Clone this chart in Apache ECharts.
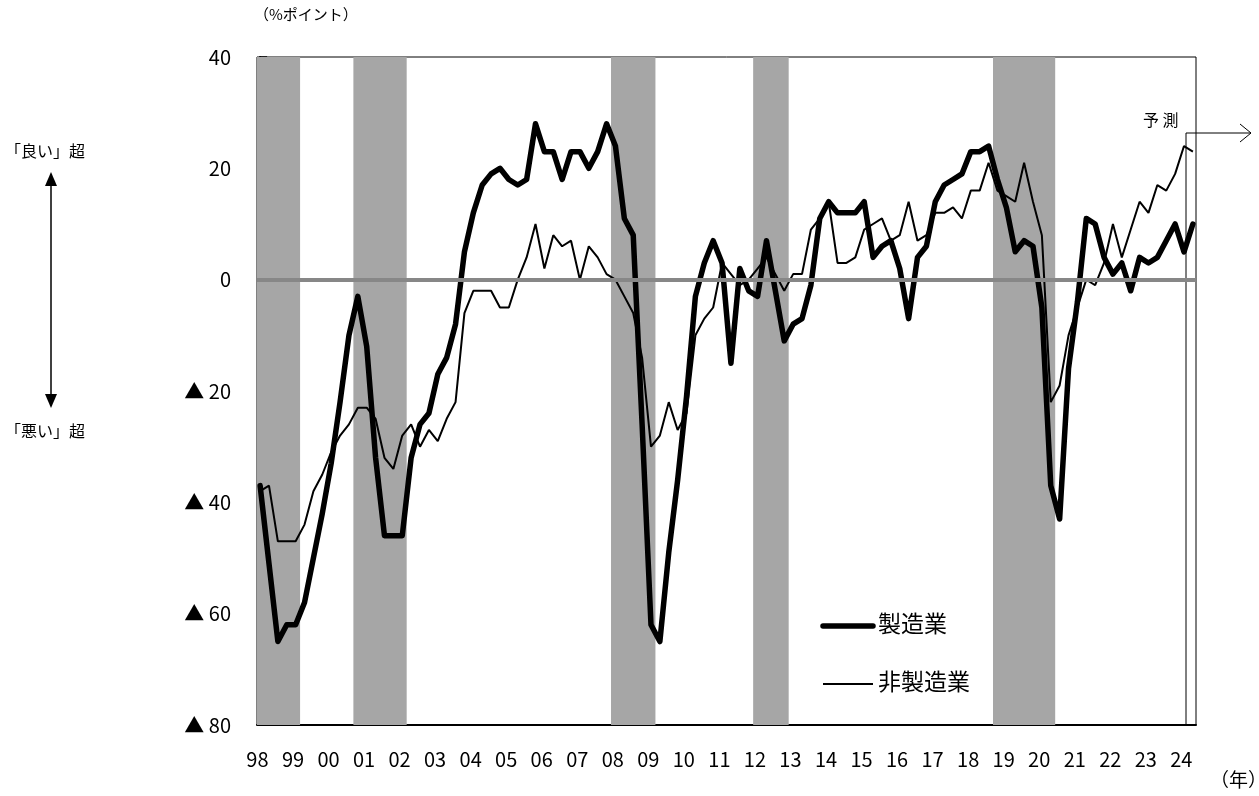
<!DOCTYPE html>
<html>
<head>
<meta charset="UTF-8">
<title>業況判断DI</title>
<style>
html,body{margin:0;padding:0;background:#fff;}
#main{width:1259px;height:796px;}
</style>
</head>
<body>
<div id="main"></div>
<script src="https://cdn.jsdelivr.net/npm/echarts@6/dist/echarts.min.js"></script>
<script>
// 年ラベル（各年の第1四半期）
var years = ['98','99','00','01','02','03','04','05','06','07','08','09','10','11','12','13','14','15','16','17','18','19','20','21','22','23','24'];
// 製造業 DI（98年1Q〜24年2Q予測）
var manufacturing = [
  -37,-51,-65,-62,-62,-58,-50,-42,-33,-22,-10,-3,-12,-32,-46,-46,
  -46,-32,-26,-24,-17,-14,-8,5,12,17,19,20,18,17,18,28,
  23,23,18,23,23,20,23,28,24,11,8,-26,-62,-65,-49,-36,
  -21,-3,3,7,3,-15,2,-2,-3,7,-2,-11,-8,-7,-1,11,
  14,12,12,12,14,4,6,7,2,-7,4,6,14,17,18,19,
  23,23,24,18,13,5,7,6,-5,-37,-43,-16,-4,11,10,4,
  1,3,-2,4,3,4,7,10,5,10
];
// 非製造業 DI
var nonManufacturing = [
  -38,-37,-47,-47,-47,-44,-38,-35,-31,-28,-26,-23,-23,-25,-32,-34,
  -28,-26,-30,-27,-29,-25,-22,-6,-2,-2,-2,-5,-5,0,4,10,
  2,8,6,7,0,6,4,1,0,-3,-6,-14,-30,-28,-22,-27,
  -24,-10,-7,-5,3,1,-1,0,2,4,1,-2,1,1,9,11,
  14,3,3,4,9,10,11,7,8,14,7,8,12,12,13,11,
  16,16,21,16,15,14,21,14,8,-22,-19,-10,-5,0,-1,3,
  10,4,9,14,12,17,16,19,24,23
];
// 景気後退期（四半期インデックス）
var recessions = [[-0.35,4.5],[10.5,16.5],[39.5,44.5],[55.5,59.5],[82.5,89.5]];

function toPairs(arr){
  var out = [];
  for (var i = 0; i < arr.length; i++) out.push([i, arr[i]]);
  return out;
}

var font = '"Noto Sans CJK JP", sans-serif';
var myChart = echarts.init(document.getElementById('main'));

var yearPos = [];
for (var k = 0; k < years.length; k++) yearPos.push(k * 4 - 0.3);

var areas = [];
for (var r = 0; r < recessions.length; r++) {
  areas.push([{xAxis: recessions[r][0]}, {xAxis: recessions[r][1]}]);
}

var option = {
  backgroundColor: '#fff',
  animation: false,
  textStyle: {fontFamily: font, color: '#000'},
  grid: {
    left: 257, right: 63, top: 57, bottom: 71,
    show: true, borderColor: '#000', borderWidth: 1, backgroundColor: 'transparent'
  },
  xAxis: {
    type: 'value',
    min: -0.35, max: 105.35,
    axisLine: {show: true, onZero: false, lineStyle: {color: '#000', width: 2}},
    axisTick: {show: false},
    splitLine: {show: false},
    axisLabel: {
      customValues: yearPos,
      margin: 24,
      fontFamily: font, fontSize: 20, color: '#000',
      formatter: function (v) { return years[Math.round((v + 0.3) / 4)]; }
    }
  },
  yAxis: {
    type: 'value',
    min: -80, max: 40, interval: 20,
    axisLine: {show: true, lineStyle: {color: '#000', width: 2}},
    axisTick: {show: true, inside: true, length: 7, lineStyle: {color: '#000', width: 1.5}},
    splitLine: {show: false},
    axisLabel: {
      margin: 26,
      fontFamily: font, fontSize: 20, color: '#000',
      formatter: function (v) { return v < 0 ? '▲ ' + (-v) : String(v); }
    }
  },
  series: [
    {
      name: 'recession', type: 'line', data: [], z: 1, silent: true,
      markArea: {silent: true, itemStyle: {color: '#a6a6a6'}, data: areas}
    },
    {
      name: 'zero', type: 'line', data: [], z: 2, silent: true,
      markLine: {
        silent: true, symbol: ['none','none'], label: {show: false},
        lineStyle: {color: '#878787', width: 4, type: 'solid'},
        data: [{yAxis: 0}]
      }
    },
    {
      name: '製造業', type: 'line', z: 3,
      data: toPairs(manufacturing),
      showSymbol: false, symbol: 'none',
      lineStyle: {color: '#000', width: 5.5, join: 'round', cap: 'round'},
      itemStyle: {color: '#000'}
    },
    {
      name: '非製造業', type: 'line', z: 4,
      data: toPairs(nonManufacturing),
      showSymbol: false, symbol: 'none',
      lineStyle: {color: '#000', width: 2},
      itemStyle: {color: '#000'}
    }
  ],
  graphic: [
    // 凡例
    {type: 'line', shape: {x1: 823, y1: 626, x2: 873, y2: 626}, style: {stroke: '#000', lineWidth: 5.5, lineCap: 'round'}},
    {type: 'text', left: 878, top: 612, style: {text: '製造業', font: '23px ' + font, fill: '#000'}},
    {type: 'line', shape: {x1: 823, y1: 684, x2: 873, y2: 684}, style: {stroke: '#000', lineWidth: 2}},
    {type: 'text', left: 878, top: 670, style: {text: '非製造業', font: '23px ' + font, fill: '#000'}},
    // 注記
    {type: 'text', left: 254, top: 7, style: {text: '（%ポイント）', font: '15px ' + font, fill: '#000'}},
    {type: 'text', left: 1210, top: 770, style: {text: '（年）', font: '19px ' + font, fill: '#000'}},
    {type: 'text', left: 5, top: 143, style: {text: '「良い」超', font: '16px ' + font, fill: '#000'}},
    {type: 'text', left: 5, top: 423, style: {text: '「悪い」超', font: '16px ' + font, fill: '#000'}},
    {type: 'line', shape: {x1: 51, y1: 182, x2: 51, y2: 398}, style: {stroke: '#000', lineWidth: 1.5}},
    {type: 'polygon', shape: {points: [[51,172],[45,186],[57,186]]}, style: {fill: '#000'}},
    {type: 'polygon', shape: {points: [[51,408],[45,394],[57,394]]}, style: {fill: '#000'}},
    // 予測
    {type: 'polyline', shape: {points: [[1186,725],[1186,133],[1251,133]]}, style: {stroke: '#000', lineWidth: 1, fill: null}},
    {type: 'polyline', shape: {points: [[1240,124],[1251,133],[1240,142]]}, style: {stroke: '#000', lineWidth: 1, fill: null}},
    {type: 'text', left: 1143, top: 112, style: {text: '予 測', font: '16px ' + font, fill: '#000'}}
  ]
};
myChart.setOption(option);
window.onresize = myChart.resize;
</script>
</body>
</html>
